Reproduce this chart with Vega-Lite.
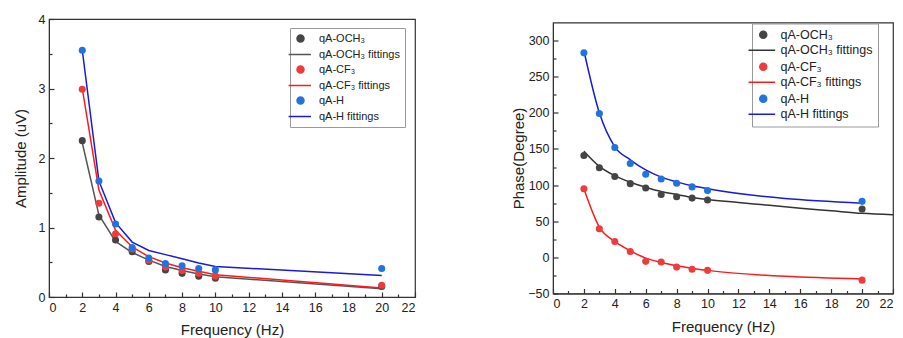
{
  "$schema": "https://vega.github.io/schema/vega-lite/v6.json",
  "padding": {"left": 12, "top": 12, "right": 0, "bottom": 0},
  "background": "white",
  "bounds": "flush",
  "center": true,
  "spacing": 138,
  "config": {
    "view": {"stroke": "#333", "strokeWidth": 1.2},
    "axis": {
      "grid": false,
      "labelFont": "Liberation Sans",
      "labelFontSize": 12.5,
      "labelColor": "#222",
      "labelOverlap": false,
      "titleFont": "Liberation Sans",
      "titleFontSize": 15,
      "titleFontWeight": "normal",
      "titleColor": "#222",
      "domainColor": "#333",
      "tickColor": "#333",
      "tickWidth": 1.2,
      "tickSize": -5,
      "labelPadding": 9
    },
    "legend": {
      "labelFont": "Liberation Sans",
      "labelColor": "#222",
      "strokeColor": "#999",
      "padding": 5,
      "symbolSize": 49,
      "symbolStrokeWidth": 1.5
    }
  },
  "datasets": {
    "amp": [
      {"f": 2, "v": 2.25, "series": "qA-OCH₃", "kind": "data"},
      {"f": 3, "v": 1.15, "series": "qA-OCH₃", "kind": "data"},
      {"f": 4, "v": 0.82, "series": "qA-OCH₃", "kind": "data"},
      {"f": 5, "v": 0.65, "series": "qA-OCH₃", "kind": "data"},
      {"f": 6, "v": 0.51, "series": "qA-OCH₃", "kind": "data"},
      {"f": 7, "v": 0.39, "series": "qA-OCH₃", "kind": "data"},
      {"f": 8, "v": 0.34, "series": "qA-OCH₃", "kind": "data"},
      {"f": 9, "v": 0.30, "series": "qA-OCH₃", "kind": "data"},
      {"f": 10, "v": 0.27, "series": "qA-OCH₃", "kind": "data"},
      {"f": 20, "v": 0.15, "series": "qA-OCH₃", "kind": "data"},
      {"f": 2, "v": 2.99, "series": "qA-CF₃", "kind": "data"},
      {"f": 3, "v": 1.35, "series": "qA-CF₃", "kind": "data"},
      {"f": 4, "v": 0.91, "series": "qA-CF₃", "kind": "data"},
      {"f": 5, "v": 0.69, "series": "qA-CF₃", "kind": "data"},
      {"f": 6, "v": 0.53, "series": "qA-CF₃", "kind": "data"},
      {"f": 7, "v": 0.43, "series": "qA-CF₃", "kind": "data"},
      {"f": 8, "v": 0.38, "series": "qA-CF₃", "kind": "data"},
      {"f": 9, "v": 0.34, "series": "qA-CF₃", "kind": "data"},
      {"f": 10, "v": 0.30, "series": "qA-CF₃", "kind": "data"},
      {"f": 20, "v": 0.17, "series": "qA-CF₃", "kind": "data"},
      {"f": 2, "v": 3.55, "series": "qA-H", "kind": "data"},
      {"f": 3, "v": 1.67, "series": "qA-H", "kind": "data"},
      {"f": 4, "v": 1.05, "series": "qA-H", "kind": "data"},
      {"f": 5, "v": 0.71, "series": "qA-H", "kind": "data"},
      {"f": 6, "v": 0.56, "series": "qA-H", "kind": "data"},
      {"f": 7, "v": 0.48, "series": "qA-H", "kind": "data"},
      {"f": 8, "v": 0.45, "series": "qA-H", "kind": "data"},
      {"f": 9, "v": 0.41, "series": "qA-H", "kind": "data"},
      {"f": 10, "v": 0.39, "series": "qA-H", "kind": "data"},
      {"f": 20, "v": 0.41, "series": "qA-H", "kind": "data"},
      {"f": 2, "v": 2.22, "series": "qA-OCH₃ fittings", "kind": "fit"},
      {"f": 3, "v": 1.18, "series": "qA-OCH₃ fittings", "kind": "fit"},
      {"f": 4, "v": 0.80, "series": "qA-OCH₃ fittings", "kind": "fit"},
      {"f": 5, "v": 0.64, "series": "qA-OCH₃ fittings", "kind": "fit"},
      {"f": 6, "v": 0.53, "series": "qA-OCH₃ fittings", "kind": "fit"},
      {"f": 7, "v": 0.44, "series": "qA-OCH₃ fittings", "kind": "fit"},
      {"f": 8, "v": 0.38, "series": "qA-OCH₃ fittings", "kind": "fit"},
      {"f": 9, "v": 0.33, "series": "qA-OCH₃ fittings", "kind": "fit"},
      {"f": 10, "v": 0.29, "series": "qA-OCH₃ fittings", "kind": "fit"},
      {"f": 20, "v": 0.12, "series": "qA-OCH₃ fittings", "kind": "fit"},
      {"f": 2, "v": 3.0, "series": "qA-CF₃ fittings", "kind": "fit"},
      {"f": 3, "v": 1.54, "series": "qA-CF₃ fittings", "kind": "fit"},
      {"f": 4, "v": 0.96, "series": "qA-CF₃ fittings", "kind": "fit"},
      {"f": 5, "v": 0.72, "series": "qA-CF₃ fittings", "kind": "fit"},
      {"f": 6, "v": 0.58, "series": "qA-CF₃ fittings", "kind": "fit"},
      {"f": 7, "v": 0.49, "series": "qA-CF₃ fittings", "kind": "fit"},
      {"f": 8, "v": 0.42, "series": "qA-CF₃ fittings", "kind": "fit"},
      {"f": 9, "v": 0.37, "series": "qA-CF₃ fittings", "kind": "fit"},
      {"f": 10, "v": 0.32, "series": "qA-CF₃ fittings", "kind": "fit"},
      {"f": 20, "v": 0.13, "series": "qA-CF₃ fittings", "kind": "fit"},
      {"f": 2, "v": 3.55, "series": "qA-H fittings", "kind": "fit"},
      {"f": 3, "v": 1.67, "series": "qA-H fittings", "kind": "fit"},
      {"f": 4, "v": 1.07, "series": "qA-H fittings", "kind": "fit"},
      {"f": 5, "v": 0.79, "series": "qA-H fittings", "kind": "fit"},
      {"f": 6, "v": 0.67, "series": "qA-H fittings", "kind": "fit"},
      {"f": 7, "v": 0.61, "series": "qA-H fittings", "kind": "fit"},
      {"f": 8, "v": 0.55, "series": "qA-H fittings", "kind": "fit"},
      {"f": 9, "v": 0.49, "series": "qA-H fittings", "kind": "fit"},
      {"f": 10, "v": 0.44, "series": "qA-H fittings", "kind": "fit"},
      {"f": 20, "v": 0.31, "series": "qA-H fittings", "kind": "fit"}
    ],
    "phase": [
      {"f": 2, "v": 141, "series": "qA-OCH₃", "kind": "data"},
      {"f": 3, "v": 124, "series": "qA-OCH₃", "kind": "data"},
      {"f": 4, "v": 112, "series": "qA-OCH₃", "kind": "data"},
      {"f": 5, "v": 102, "series": "qA-OCH₃", "kind": "data"},
      {"f": 6, "v": 96, "series": "qA-OCH₃", "kind": "data"},
      {"f": 7, "v": 87, "series": "qA-OCH₃", "kind": "data"},
      {"f": 8, "v": 84, "series": "qA-OCH₃", "kind": "data"},
      {"f": 9, "v": 82, "series": "qA-OCH₃", "kind": "data"},
      {"f": 10, "v": 79.5, "series": "qA-OCH₃", "kind": "data"},
      {"f": 20, "v": 67, "series": "qA-OCH₃", "kind": "data"},
      {"f": 2, "v": 95, "series": "qA-CF₃", "kind": "data"},
      {"f": 3, "v": 39.5, "series": "qA-CF₃", "kind": "data"},
      {"f": 4, "v": 22, "series": "qA-CF₃", "kind": "data"},
      {"f": 5, "v": 8, "series": "qA-CF₃", "kind": "data"},
      {"f": 6, "v": -5.5, "series": "qA-CF₃", "kind": "data"},
      {"f": 7, "v": -6.5, "series": "qA-CF₃", "kind": "data"},
      {"f": 8, "v": -13.5, "series": "qA-CF₃", "kind": "data"},
      {"f": 9, "v": -16.5, "series": "qA-CF₃", "kind": "data"},
      {"f": 10, "v": -18, "series": "qA-CF₃", "kind": "data"},
      {"f": 20, "v": -31.5, "series": "qA-CF₃", "kind": "data"},
      {"f": 2, "v": 283, "series": "qA-H", "kind": "data"},
      {"f": 3, "v": 199, "series": "qA-H", "kind": "data"},
      {"f": 4, "v": 152, "series": "qA-H", "kind": "data"},
      {"f": 5, "v": 130, "series": "qA-H", "kind": "data"},
      {"f": 6, "v": 115, "series": "qA-H", "kind": "data"},
      {"f": 7, "v": 108.5, "series": "qA-H", "kind": "data"},
      {"f": 8, "v": 102.5, "series": "qA-H", "kind": "data"},
      {"f": 9, "v": 97.5, "series": "qA-H", "kind": "data"},
      {"f": 10, "v": 92.5, "series": "qA-H", "kind": "data"},
      {"f": 20, "v": 77.5, "series": "qA-H", "kind": "data"},
      {"f": 2, "v": 147, "series": "qA-OCH₃ fittings", "kind": "fit"},
      {"f": 3, "v": 126, "series": "qA-OCH₃ fittings", "kind": "fit"},
      {"f": 4, "v": 113, "series": "qA-OCH₃ fittings", "kind": "fit"},
      {"f": 5, "v": 104, "series": "qA-OCH₃ fittings", "kind": "fit"},
      {"f": 6, "v": 97, "series": "qA-OCH₃ fittings", "kind": "fit"},
      {"f": 7, "v": 91, "series": "qA-OCH₃ fittings", "kind": "fit"},
      {"f": 8, "v": 87, "series": "qA-OCH₃ fittings", "kind": "fit"},
      {"f": 9, "v": 83, "series": "qA-OCH₃ fittings", "kind": "fit"},
      {"f": 10, "v": 80, "series": "qA-OCH₃ fittings", "kind": "fit"},
      {"f": 12, "v": 76, "series": "qA-OCH₃ fittings", "kind": "fit"},
      {"f": 14, "v": 72, "series": "qA-OCH₃ fittings", "kind": "fit"},
      {"f": 16, "v": 68, "series": "qA-OCH₃ fittings", "kind": "fit"},
      {"f": 18, "v": 64.5, "series": "qA-OCH₃ fittings", "kind": "fit"},
      {"f": 20, "v": 61, "series": "qA-OCH₃ fittings", "kind": "fit"},
      {"f": 22, "v": 59, "series": "qA-OCH₃ fittings", "kind": "fit"},
      {"f": 2, "v": 95, "series": "qA-CF₃ fittings", "kind": "fit"},
      {"f": 3, "v": 42, "series": "qA-CF₃ fittings", "kind": "fit"},
      {"f": 4, "v": 22, "series": "qA-CF₃ fittings", "kind": "fit"},
      {"f": 5, "v": 9, "series": "qA-CF₃ fittings", "kind": "fit"},
      {"f": 6, "v": -1, "series": "qA-CF₃ fittings", "kind": "fit"},
      {"f": 7, "v": -7, "series": "qA-CF₃ fittings", "kind": "fit"},
      {"f": 8, "v": -11.5, "series": "qA-CF₃ fittings", "kind": "fit"},
      {"f": 9, "v": -15, "series": "qA-CF₃ fittings", "kind": "fit"},
      {"f": 10, "v": -18, "series": "qA-CF₃ fittings", "kind": "fit"},
      {"f": 20, "v": -30, "series": "qA-CF₃ fittings", "kind": "fit"},
      {"f": 2, "v": 286, "series": "qA-H fittings", "kind": "fit"},
      {"f": 3, "v": 200, "series": "qA-H fittings", "kind": "fit"},
      {"f": 4, "v": 153, "series": "qA-H fittings", "kind": "fit"},
      {"f": 5, "v": 135, "series": "qA-H fittings", "kind": "fit"},
      {"f": 6, "v": 121, "series": "qA-H fittings", "kind": "fit"},
      {"f": 7, "v": 111, "series": "qA-H fittings", "kind": "fit"},
      {"f": 8, "v": 104.5, "series": "qA-H fittings", "kind": "fit"},
      {"f": 9, "v": 99, "series": "qA-H fittings", "kind": "fit"},
      {"f": 10, "v": 95, "series": "qA-H fittings", "kind": "fit"},
      {"f": 20, "v": 75, "series": "qA-H fittings", "kind": "fit"}
    ]
  },
  "hconcat": [
    {
      "width": 366,
      "height": 278,
      "data": {"name": "amp"},
      "layer": [
        {
          "transform": [{"filter": "datum.kind === 'fit'"}],
          "mark": {"type": "line", "strokeWidth": 1.5, "clip": true},
          "encoding": {
            "x": {"field": "f", "type": "quantitative", "scale": {"domain": [0, 22], "nice": false}, "axis": {"title": "Frequency (Hz)", "orient": "bottom", "values": [0,2,4,6,8,10,12,14,16,18,20,22], "titlePadding": 9}},
            "y": {"field": "v", "type": "quantitative", "scale": {"domain": [0, 4], "nice": false}, "axis": {"title": "Amplitude (uV)", "orient": "left", "format": "d", "values": [0,1,2,3,4], "titlePadding": 10}},
            "color": {"field": "series", "type": "nominal"},
            "detail": {"field": "series"}
          }
        },
        {
          "transform": [{"filter": "datum.kind === 'data'"}],
          "mark": {"type": "point", "filled": true, "size": 50, "opacity": 1, "strokeWidth": 0},
          "encoding": {
            "x": {"field": "f", "type": "quantitative", "axis": {"orient": "bottom", "title": null, "labels": false, "domain": false, "tickSize": -3, "values": [1,3,5,7,9,11,13,15,17,19,21]}},
            "y": {"field": "v", "type": "quantitative", "axis": {"orient": "left", "title": null, "labels": false, "domain": false, "tickSize": -3, "values": [0.5,1.5,2.5,3.5]}},
            "color": {
              "field": "series", "type": "nominal",
              "scale": {
                "domain": ["qA-OCH₃", "qA-OCH₃ fittings", "qA-CF₃", "qA-CF₃ fittings", "qA-H", "qA-H fittings"],
                "range": ["#454545", "#555555", "#ee3b3b", "#ff1a1a", "#1f74e0", "#1a1ad8"]
              },
              "legend": {"title": null, "orient": "none", "legendX": 241, "legendY": 9, "rowPadding": 3, "labelFontSize": 11, "labelOffset": 13}
            },
            "stroke": {
              "field": "series", "type": "nominal",
              "scale": {
                "domain": ["qA-OCH₃", "qA-OCH₃ fittings", "qA-CF₃", "qA-CF₃ fittings", "qA-H", "qA-H fittings"],
                "range": ["#454545", "#555555", "#ee3b3b", "#ff1a1a", "#1f74e0", "#1a1ad8"]
              },
              "legend": {"title": null, "orient": "none", "legendX": 241, "legendY": 9, "rowPadding": 3, "labelFontSize": 11, "labelOffset": 13}
            },
            "shape": {
              "field": "series", "type": "nominal",
              "scale": {
                "domain": ["qA-OCH₃", "qA-OCH₃ fittings", "qA-CF₃", "qA-CF₃ fittings", "qA-H", "qA-H fittings"],
                "range": ["circle", "M-3.4,0H3", "circle", "M-3.4,0H3", "circle", "M-3.4,0H3"]
              },
              "legend": {"title": null, "orient": "none", "legendX": 241, "legendY": 9, "rowPadding": 3, "labelFontSize": 11, "labelOffset": 13}
            }
          }
        }
      ],
      "resolve": {"axis": {"x": "independent", "y": "independent"}}
    },
    {
      "width": 340,
      "height": 271,
      "data": {"name": "phase"},
      "layer": [
        {
          "transform": [{"filter": "datum.kind === 'fit'"}],
          "mark": {"type": "line", "strokeWidth": 1.5, "clip": true, "interpolate": "monotone"},
          "encoding": {
            "x": {"field": "f", "type": "quantitative", "scale": {"domain": [0, 22], "nice": false}, "axis": {"title": "Frequency (Hz)", "orient": "bottom", "values": [0,2,4,6,8,10,12,14,16,18,20,22], "titlePadding": 9}},
            "y": {"field": "v", "type": "quantitative", "scale": {"domain": [-50, 325], "nice": false}, "axis": {"title": "Phase(Degree)", "orient": "left", "values": [-50,0,50,100,150,200,250,300], "titlePadding": 1}},
            "color": {"field": "series", "type": "nominal"},
            "detail": {"field": "series"}
          }
        },
        {
          "transform": [{"filter": "datum.kind === 'data'"}],
          "mark": {"type": "point", "filled": true, "size": 50, "opacity": 1, "strokeWidth": 0},
          "encoding": {
            "x": {"field": "f", "type": "quantitative", "axis": {"orient": "bottom", "title": null, "labels": false, "domain": false, "tickSize": -3, "values": [1,3,5,7,9,11,13,15,17,19,21]}},
            "y": {"field": "v", "type": "quantitative", "axis": {"orient": "left", "title": null, "labels": false, "domain": false, "tickSize": -3, "values": [-25,25,75,125,175,225,275]}},
            "color": {
              "field": "series", "type": "nominal",
              "scale": {
                "domain": ["qA-OCH₃", "qA-OCH₃ fittings", "qA-CF₃", "qA-CF₃ fittings", "qA-H", "qA-H fittings"],
                "range": ["#454545", "#333333", "#ee3b3b", "#ff1a1a", "#1f74e0", "#1a1ad8"]
              },
              "legend": {"title": null, "orient": "none", "legendX": 199, "legendY": 1, "rowPadding": 2.5, "labelFontSize": 12.5, "labelOffset": 11}
            },
            "stroke": {
              "field": "series", "type": "nominal",
              "scale": {
                "domain": ["qA-OCH₃", "qA-OCH₃ fittings", "qA-CF₃", "qA-CF₃ fittings", "qA-H", "qA-H fittings"],
                "range": ["#454545", "#333333", "#ee3b3b", "#ff1a1a", "#1f74e0", "#1a1ad8"]
              },
              "legend": {"title": null, "orient": "none", "legendX": 199, "legendY": 1, "rowPadding": 2.5, "labelFontSize": 12.5, "labelOffset": 11}
            },
            "shape": {
              "field": "series", "type": "nominal",
              "scale": {
                "domain": ["qA-OCH₃", "qA-OCH₃ fittings", "qA-CF₃", "qA-CF₃ fittings", "qA-H", "qA-H fittings"],
                "range": ["circle", "M-4.2,0H3.4", "circle", "M-4.2,0H3.4", "circle", "M-4.2,0H3.4"]
              },
              "legend": {"title": null, "orient": "none", "legendX": 199, "legendY": 1, "rowPadding": 2.5, "labelFontSize": 12.5, "labelOffset": 11}
            }
          }
        }
      ],
      "resolve": {"axis": {"x": "independent", "y": "independent"}}
    }
  ],
  "resolve": {"scale": {"color": "independent", "stroke": "independent", "shape": "independent"}}
}
